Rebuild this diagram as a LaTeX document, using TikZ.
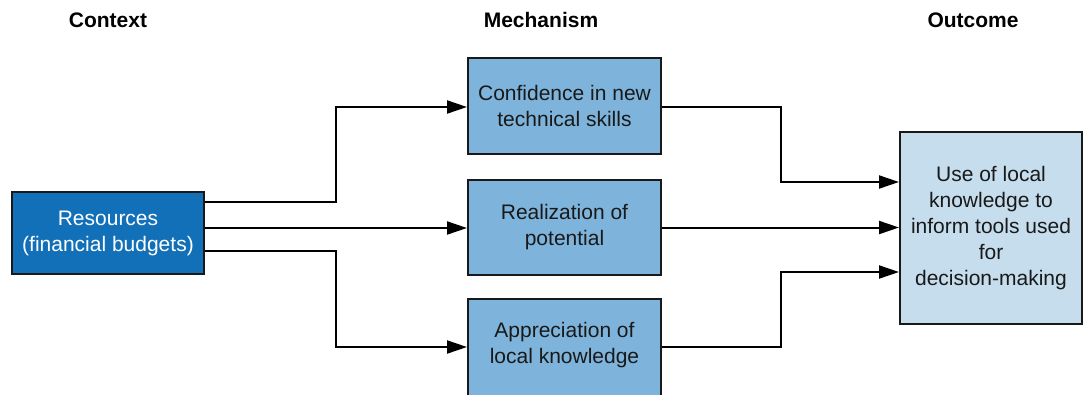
\documentclass[tikz,border=0pt]{standalone}
\usepackage{fontspec}
\setmainfont{Liberation Sans}
\usetikzlibrary{arrows.meta,positioning}
\definecolor{resblue}{HTML}{1170B8}
\definecolor{mechblue}{HTML}{7EB4DB}
\definecolor{outblue}{HTML}{C6DDEE}
\tikzset{
  box/.style={draw=black!90, line width=2pt, align=center, inner sep=0pt,
    font=\fontsize{21}{26}\selectfont, text=black!90},
  boxtext/.style={align=center, inner sep=0pt,
    font=\fontsize{21}{26}\selectfont, text=black!90},
  header/.style={font=\fontsize{21}{26}\selectfont\bfseries},
  conn/.style={line width=2pt, -{Triangle[length=20pt,width=13pt]}},
}
\begin{document}
\begin{tikzpicture}[x=1pt,y=-1pt]
\useasboundingbox (0,0) rectangle (1083,394);
\node[header] (hc) at (108,20) {Context};
\node[header] (hm) at (541,20) {Mechanism};
\node[header] (ho) at (973,20) {Outcome};

\node[box, fill=resblue, text=white, minimum width=192pt, minimum height=82pt] (res) at (108,233) {Resources\\(financial budgets)};
\node[box, fill=mechblue, minimum width=193pt, minimum height=96pt] (m1) at (564.5,106) {Confidence in new\\technical skills};
\node[box, fill=mechblue, minimum width=193pt, minimum height=95pt] (m2) at (564.5,227.5) {Realization of\\potential};
\node[box, fill=mechblue, minimum width=193pt, minimum height=104pt] (m3) at (564.5,351) {};
\node[boxtext] (m3t) at (564.5,345) {Appreciation of\\local knowledge};
\node[box, fill=outblue, minimum width=182pt, minimum height=192pt] (out) at (991,228) {Use of local\\knowledge to\\inform tools used\\for\\decision-making};

\coordinate (r1) at (res.east |- 0,202);
\coordinate (r2) at (res.east |- 0,228);
\coordinate (r3) at (res.east |- 0,251);
\coordinate (m1in) at (m1.west |- 0,107);
\coordinate (m1out) at (m1.east |- 0,107);
\coordinate (m3in) at (m3.west |- 0,347);
\coordinate (m3out) at (m3.east |- 0,347);
\coordinate (o1) at (out.west |- 0,182);
\coordinate (o3) at (out.west |- 0,272);
\coordinate (k1) at (336,154);
\coordinate (k2) at (336,300);
\coordinate (k3) at (781,150);
\coordinate (k4) at (781,300);

\draw[conn] (r1) -| (k1) |- (m1in);
\draw[conn] (r2) -- (m2.west |- r2);
\draw[conn] (r3) -| (k2) |- (m3in);
\draw[conn] (m1out) -| (k3) |- (o1);
\draw[conn] (m2.east) -- (out.west |- m2.east);
\draw[line width=2pt] (m3out) -| (k4);
\draw[conn] (k4) |- (o3);
\end{tikzpicture}
\end{document}
